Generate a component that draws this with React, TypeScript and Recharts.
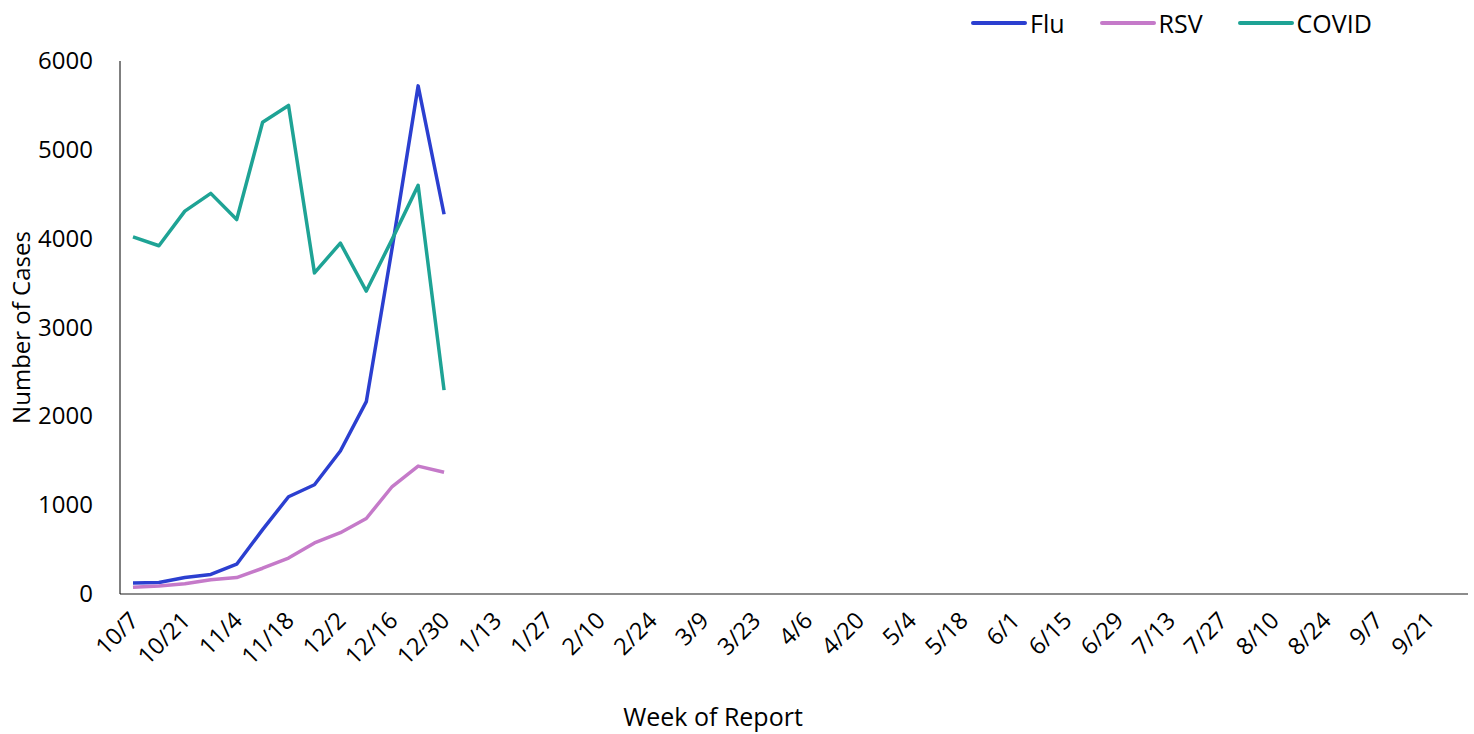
import React from "react";
import { LineChart, Line, XAxis, YAxis } from "recharts";

const weeks = [
  "10/7", "10/14", "10/21", "10/28", "11/4", "11/11", "11/18", "11/25",
  "12/2", "12/9", "12/16", "12/23", "12/30", "1/6", "1/13", "1/20", "1/27",
  "2/3", "2/10", "2/17", "2/24", "3/2", "3/9", "3/16", "3/23", "3/30",
  "4/6", "4/13", "4/20", "4/27", "5/4", "5/11", "5/18", "5/25",
  "6/1", "6/8", "6/15", "6/22", "6/29", "7/6", "7/13", "7/20", "7/27",
  "8/3", "8/10", "8/17", "8/24", "8/31", "9/7", "9/14", "9/21", "9/28",
];

const flu = [125, 130, 185, 220, 335, 725, 1095, 1230, 1610, 2165, 3900, 5720, 4275];
const rsv = [75, 90, 115, 160, 185, 290, 405, 575, 690, 850, 1210, 1440, 1370];
const covid = [4020, 3920, 4310, 4510, 4215, 5310, 5500, 3615, 3950, 3410, 3995, 4600, 2295];

const yTicks = [0, 1000, 2000, 3000, 4000, 5000, 6000];

const series = [
  { key: "Flu", data: flu, color: "#2B3FD0" },
  { key: "RSV", data: rsv, color: "#C57AC9" },
  { key: "COVID", data: covid, color: "#1EA395" },
];

const rows = weeks.map((w, i) => {
  const r: Record<string, any> = { week: w };
  series.forEach((s) => {
    r[s.key] = i < s.data.length ? s.data[i] : null;
  });
  return r;
});

const FONT = "'Open Sans', 'Noto Sans', sans-serif";

const XTick = (props: any) => {
  const { x, y, payload } = props;
  const ax = x + 7;
  const ay = y + 20;
  return (
    <text
      x={ax}
      y={ay}
      transform={`rotate(-45, ${ax}, ${ay})`}
      textAnchor="end"
      fontSize={23.5}
      fontFamily={FONT}
      fill="#000"
    >
      {payload.value}
    </text>
  );
};

const YTick = (props: any) => {
  const { x, y, payload } = props;
  return (
    <text x={x} y={y} dy={8} textAnchor="end" fontSize={24} fontFamily={FONT} fill="#000">
      {payload.value}
    </text>
  );
};

const XTitle = (props: any) => {
  const vb = props.viewBox;
  return (
    <text
      x={vb.x + vb.width / 2 - 81}
      y={vb.y + vb.height - 8}
      textAnchor="middle"
      fontSize={25}
      fontFamily={FONT}
      fill="#000"
    >
      Week of Report
    </text>
  );
};

const YTitle = (props: any) => {
  const vb = props.viewBox;
  const cx = vb.x + 30;
  const cy = vb.y + vb.height / 2;
  return (
    <text
      x={cx}
      y={cy}
      transform={`rotate(-90, ${cx}, ${cy})`}
      textAnchor="middle"
      fontSize={24}
      fontFamily={FONT}
      fill="#000"
    >
      Number of Cases
    </text>
  );
};

const LegendBox = () => (
  <div
    style={{
      position: "absolute",
      left: 970,
      top: 6,
      display: "flex",
      alignItems: "center",
      fontFamily: FONT,
      fontSize: 25,
      color: "#000",
    }}
  >
    {series.map((s) => (
      <div key={s.key} style={{ display: "flex", alignItems: "center", marginRight: 34 }}>
        <svg width={58} height={10} style={{ marginRight: 2 }}>
          <line x1={3} y1={5} x2={55} y2={5} stroke={s.color} strokeWidth={4} strokeLinecap="round" />
        </svg>
        <span>{s.key}</span>
      </div>
    ))}
  </div>
);

export default function App() {
  return (
    <div style={{ position: "absolute", left: 0, top: 0, width: 1474, height: 734, background: "#fff" }}>
      <LineChart
        width={1474}
        height={734}
        data={rows}
        margin={{ top: 61, right: 6, bottom: 0, left: 0 }}
      >
        <XAxis
          dataKey="week"
          interval={1}
          padding={{ left: 13, right: 13 }}
          axisLine={{ stroke: "#8C8C8C", strokeWidth: 2 }}
          tickLine={false}
          tick={<XTick />}
          height={140}
          label={<XTitle />}
        />
        <YAxis
          domain={[0, 6000]}
          ticks={yTicks}
          width={120}
          axisLine={{ stroke: "#000", strokeWidth: 1 }}
          tickLine={false}
          tickSize={0}
          tickMargin={27}
          tick={<YTick />}
          label={<YTitle />}
        />
        {series.map((s) => (
          <Line
            key={s.key}
            dataKey={s.key}
            stroke={s.color}
            strokeWidth={3.5}
            dot={false}
            isAnimationActive={false}
            connectNulls={false}
            strokeLinejoin="round"
          />
        ))}
      </LineChart>
      <LegendBox />
    </div>
  );
}
